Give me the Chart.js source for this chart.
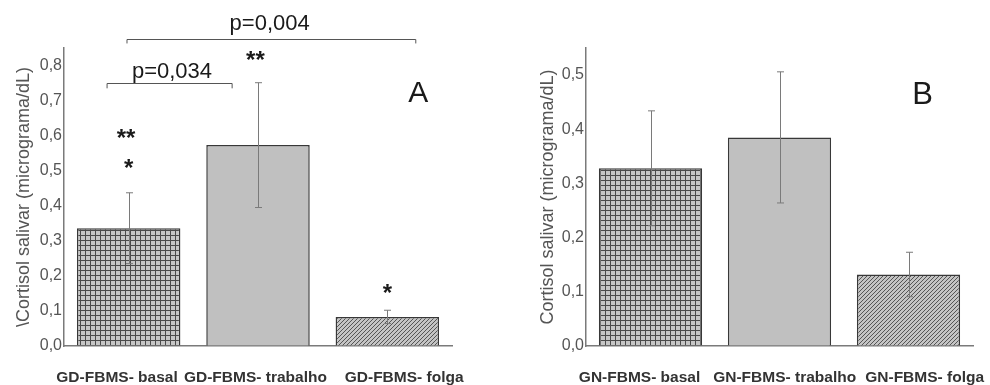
<!DOCTYPE html>
<html>
<head>
<meta charset="utf-8">
<script src="https://cdn.jsdelivr.net/npm/chart.js@4/dist/chart.umd.min.js"></script>
<style>
  html, body { margin: 0; padding: 0; background: #ffffff; }
  #wrap { position: relative; width: 990px; height: 385px; overflow: hidden; background: #fff; }
  canvas { position: absolute; top: 0; }
  #cA { left: 0; }
  #cB { left: 495px; }
</style>
</head>
<body>
<div id="wrap">
  <canvas id="cA" width="495" height="385"></canvas>
  <canvas id="cB" width="495" height="385"></canvas>
</div>
<script>
// ---- Data ----
const categoriesA = ['GD-FBMS- basal', 'GD-FBMS- trabalho', 'GD-FBMS- folga'];
const meansA = [0.336, 0.573, 0.083];
const errorsA = [0.101, 0.178, 0.019];
const ticksA = [0.0, 0.1, 0.2, 0.3, 0.4, 0.5, 0.6, 0.7, 0.8];

const categoriesB = ['GN-FBMS- basal', 'GN-FBMS- trabalho', 'GN-FBMS- folga'];
const meansB = [0.328, 0.385, 0.132];
const errorsB = [0.106, 0.121, 0.041];
const ticksB = [0.0, 0.1, 0.2, 0.3, 0.4, 0.5];

const titleA = '\\Cortisol salivar (micrograma/dL)';
const titleB = 'Cortisol salivar (micrograma/dL)';

// label shifts (in category units) as in the reference layout
const labelShiftA = [-0.09, -0.02, 0.13];
const labelShiftB = [-0.085, 0.04, 0.125];

// annotation texts (position in category-index / value units)
const notesA = [
  { text: 'p=0,004', x: 1.09, y: 0.92, font: '22px "Liberation Sans", Arial, sans-serif' },
  { text: 'p=0,034', x: 0.335, y: 0.783, font: '22px "Liberation Sans", Arial, sans-serif' },
  { text: '**', x: 0.98, y: 0.812, font: 'bold 24px "Liberation Sans", Arial, sans-serif' },
  { text: '**', x: -0.02, y: 0.59, font: 'bold 24px "Liberation Sans", Arial, sans-serif' },
  { text: '*', x: 0.0, y: 0.503, font: 'bold 24px "Liberation Sans", Arial, sans-serif' },
  { text: '*', x: 2.0, y: 0.148, font: 'bold 24px "Liberation Sans", Arial, sans-serif' },
  { text: 'A', x: 2.24, y: 0.72, font: '30px "Liberation Sans", Arial, sans-serif' }
];
const bracketsA = [
  { x0: -0.013, x1: 2.22, y: 0.877, drop: 0.014 },
  { x0: -0.167, x1: 0.80, y: 0.749, drop: 0.014 }
];
const notesB = [
  { text: 'B', x: 2.11, y: 0.462, font: '31px "Liberation Sans", Arial, sans-serif' }
];
const bracketsB = [];

// ---- Patterns ----
function crossPattern() {
  const s = 5;
  const c = document.createElement('canvas');
  c.width = s; c.height = s;
  const g = c.getContext('2d');
  g.fillStyle = '#c6c6c6';
  g.fillRect(0, 0, s, s);
  g.fillStyle = '#4a4a4a';
  g.fillRect(0, 0, s, 1);
  g.fillRect(0, 0, 1, s);
  return g.createPattern(c, 'repeat');
}
function diagPattern() {
  const s = 4;
  const c = document.createElement('canvas');
  c.width = s; c.height = s;
  const g = c.getContext('2d');
  g.fillStyle = '#c4c4c4';
  g.fillRect(0, 0, s, s);
  g.strokeStyle = '#555555';
  g.lineWidth = 1;
  g.beginPath();
  g.moveTo(0, s); g.lineTo(s, 0);
  g.moveTo(-1, 1); g.lineTo(1, -1);
  g.moveTo(s - 1, s + 1); g.lineTo(s + 1, s - 1);
  g.stroke();
  return g.createPattern(c, 'repeat');
}

const FONT = '"Liberation Sans", Arial, Helvetica, sans-serif';

const overlayPlugin = {
  id: 'overlay',
  afterDatasetsDraw(chart, args, opts) {
    const ctx = chart.ctx;
    const ys = chart.scales.y;
    const meta = chart.getDatasetMeta(0);
    const means = opts.means, errs = opts.errors;
    ctx.save();
    ctx.strokeStyle = '#7a7a7a';
    ctx.lineWidth = 1;
    for (let i = 0; i < means.length; i++) {
      const x = Math.round(meta.data[i].x) + 0.5;
      const yt = ys.getPixelForValue(means[i] + errs[i]);
      const yb = ys.getPixelForValue(means[i] - errs[i]);
      ctx.beginPath();
      ctx.moveTo(x, yt); ctx.lineTo(x, yb);
      ctx.moveTo(x - 3.5, yt); ctx.lineTo(x + 3.5, yt);
      ctx.moveTo(x - 3.5, yb); ctx.lineTo(x + 3.5, yb);
      ctx.stroke();
    }
    ctx.restore();
  },
  afterDraw(chart, args, opts) {
    const ctx = chart.ctx;
    const xs = chart.scales.x, ys = chart.scales.y;
    const px = v => {
      const a = xs.getPixelForValue(0), b = xs.getPixelForValue(1);
      return a + v * (b - a);
    };
    ctx.save();
    // category labels
    ctx.fillStyle = '#333333';
    ctx.textAlign = 'center';
    ctx.textBaseline = 'middle';
    ctx.font = 'bold 15.5px ' + FONT;
    chart.data.labels.forEach((lab, i) => {
      ctx.fillText(lab, px(i + opts.shift[i]), ys.getPixelForValue(0) + 32);
    });
    // brackets
    ctx.strokeStyle = '#555';
    ctx.lineWidth = 1;
    (opts.brackets || []).forEach(br => {
      const x0 = px(br.x0), x1 = px(br.x1);
      const y = Math.round(ys.getPixelForValue(br.y)) + 0.5;
      const yd = ys.getPixelForValue(br.y - br.drop);
      ctx.beginPath();
      ctx.moveTo(x0, yd); ctx.lineTo(x0, y); ctx.lineTo(x1, y); ctx.lineTo(x1, yd);
      ctx.stroke();
    });
    ctx.fillStyle = '#1a1a1a';
    (opts.notes || []).forEach(n => {
      ctx.font = n.font;
      ctx.fillText(n.text, px(n.x), ys.getPixelForValue(n.y));
    });
    ctx.restore();
  }
};

function makeChart(id, cats, means, errs, tickVals, maxV, title, yWidth, padLeft, padRight, notes, brackets, shift) {
  return new Chart(document.getElementById(id), {
    type: 'bar',
    data: {
      labels: cats,
      datasets: [{
        data: means,
        backgroundColor: [crossPattern(), '#c0c0c0', diagPattern()],
        borderColor: '#383838',
        borderWidth: 1.5,
        categoryPercentage: 1.0,
        barPercentage: 0.8
      }]
    },
    options: {
      responsive: false,
      animation: false,
      devicePixelRatio: 1,
      layout: { padding: { left: padLeft, right: padRight, top: 48, bottom: 0 } },
      plugins: {
        legend: { display: false },
        tooltip: { enabled: false },
        overlay: { means: means, errors: errs, notes: notes, brackets: brackets, shift: shift }
      },
      scales: {
        x: {
          grid: { display: true, color: 'rgba(0,0,0,0)', drawTicks: false },
          border: { display: true, color: '#7a7a7a', width: 1.5 },
          ticks: { display: false },
          afterFit(s) { s.height = 39; }
        },
        y: {
          min: 0, max: maxV,
          grid: { display: true, color: 'rgba(0,0,0,0)', drawTicks: false },
          border: { display: true, color: '#7a7a7a', width: 1.5 },
          afterBuildTicks(s) { s.ticks = tickVals.map(v => ({ value: v })); },
          ticks: {
            padding: 2,
            color: '#555555',
            font: { family: FONT, size: 16 },
            callback: v => Number(v).toFixed(1).replace('.', ',')
          },
          title: {
            display: true, text: title, color: '#555555',
            font: { family: FONT, size: 18 },
            padding: { top: 0, bottom: 0 }
          },
          afterFit(s) { s.width = yWidth; }
        }
      }
    },
    plugins: [overlayPlugin]
  });
}

makeChart('cA', categoriesA, meansA, errorsA, ticksA, 0.85, titleA, 51, 13, 43, notesA, bracketsA, labelShiftA);
makeChart('cB', categoriesB, meansB, errorsB, ticksB, 0.55, titleB, 49, 42, 17, notesB, bracketsB, labelShiftB);
</script>
</body>
</html>
